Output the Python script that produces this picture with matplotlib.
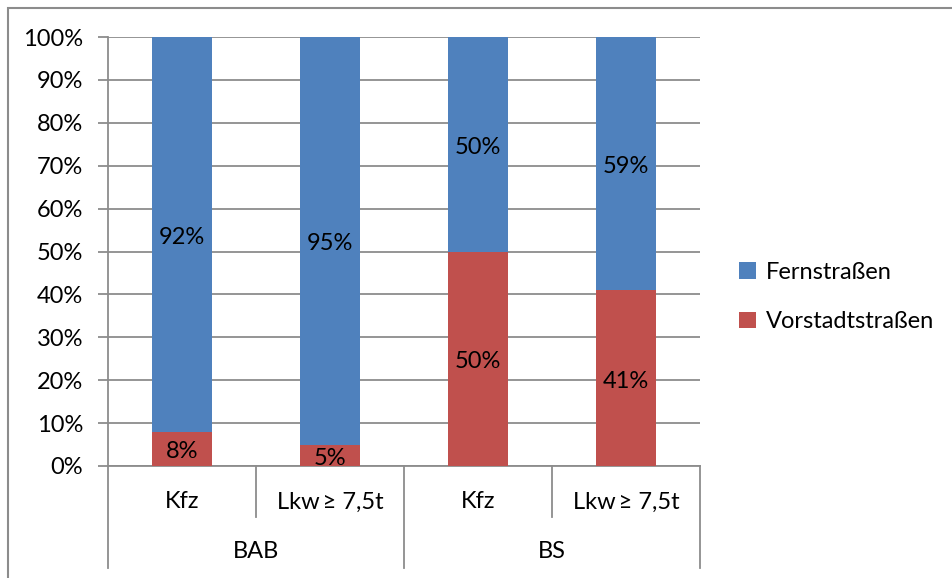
import matplotlib
matplotlib.use("Agg")
import matplotlib.pyplot as plt
from matplotlib.lines import Line2D
from matplotlib.patches import Rectangle

# Shares of traffic by road type
categories = ["Kfz", "Lkw\u2009≥ 7,5t", "Kfz", "Lkw\u2009≥ 7,5t"]
groups = ["BAB", "BS"]
vorstadt = [8, 5, 50, 41]
fern = [92, 95, 50, 59]
yticks = [0, 10, 20, 30, 40, 50, 60, 70, 80, 90, 100]

plt.rcParams["font.family"] = ["Lato", "DejaVu Sans"]
W, H = 953, 578
FS = 17
fig = plt.figure(figsize=(W / 100, H / 100), dpi=100)

# plot area in pixels
x0, x1, ytop, ybot = 108, 700, 37, 466
ax = fig.add_axes([x0 / W, 1 - ybot / H, (x1 - x0) / W, (ybot - ytop) / H])

blue = "#4F81BD"
red = "#C0504D"
grid = "#8C8C8C"

xs = list(range(len(categories)))
ax.bar(xs, vorstadt, width=0.4, color=red, label="Vorstadtstraßen", zorder=3)
ax.bar(xs, fern, width=0.4, bottom=vorstadt, color=blue, label="Fernstraßen", zorder=3)

for i in xs:
    ax.text(i, vorstadt[i] / 2 - 0.7, f"{vorstadt[i]}%",
            ha="center", va="center", fontsize=FS, color="black", zorder=4)
    ax.text(i, vorstadt[i] + fern[i] / 2 - 0.7, f"{fern[i]}%",
            ha="center", va="center", fontsize=FS, color="black", zorder=4)

ax.set_xlim(-0.5, len(categories) - 0.5)
ax.set_ylim(0, 100)
ax.set_yticks(yticks)
ax.set_yticklabels([f"{t}%" for t in yticks], fontsize=FS)
ax.yaxis.grid(True, color=grid, linewidth=1.3, zorder=0)
ax.tick_params(axis="y", length=7, width=1.3, color=grid, pad=11)
ax.set_xticks([])
for s in ["top", "right"]:
    ax.spines[s].set_visible(False)
ax.spines["left"].set_color(grid)
ax.spines["left"].set_linewidth(1.3)
ax.spines["bottom"].set_color(grid)
ax.spines["bottom"].set_linewidth(1.3)

# two-level category axis
trans = ax.get_xaxis_transform()
def ypx(p):
    return -(p - ybot) / (ybot - ytop)

for b in [-0.5, 0.5, 1.5, 2.5, 3.5]:
    bottom = 568 if b in (-0.5, 1.5, 3.5) else 517
    ax.add_line(Line2D([b, b], [0, ypx(bottom)], transform=trans, color=grid,
                       linewidth=1.3, clip_on=False))
for i, c in enumerate(categories):
    ax.text(i, ypx(502), c, transform=trans, ha="center", va="center", fontsize=FS)
for g, gx in zip(groups, [0.5, 2.5]):
    ax.text(gx, ypx(552), g, transform=trans, ha="center", va="center", fontsize=FS)

# legend
handles, labels = ax.get_legend_handles_labels()
fig.legend(handles[::-1], labels[::-1], loc="center left",
           bbox_to_anchor=(739 / W, 1 - 297 / H), frameon=False, fontsize=FS,
           handlelength=0.7, handleheight=0.7, handletextpad=0.45, labelspacing=1.2,
           borderaxespad=0, borderpad=0)

# outer chart frame
fig.patches.append(Rectangle((8 / W, -0.1), (W + 10) / W, 1 - 8 / H + 0.1,
                             transform=fig.transFigure, fill=False,
                             edgecolor="#8C8C8C", linewidth=1.5))

fig.savefig("out.png", dpi=100)
